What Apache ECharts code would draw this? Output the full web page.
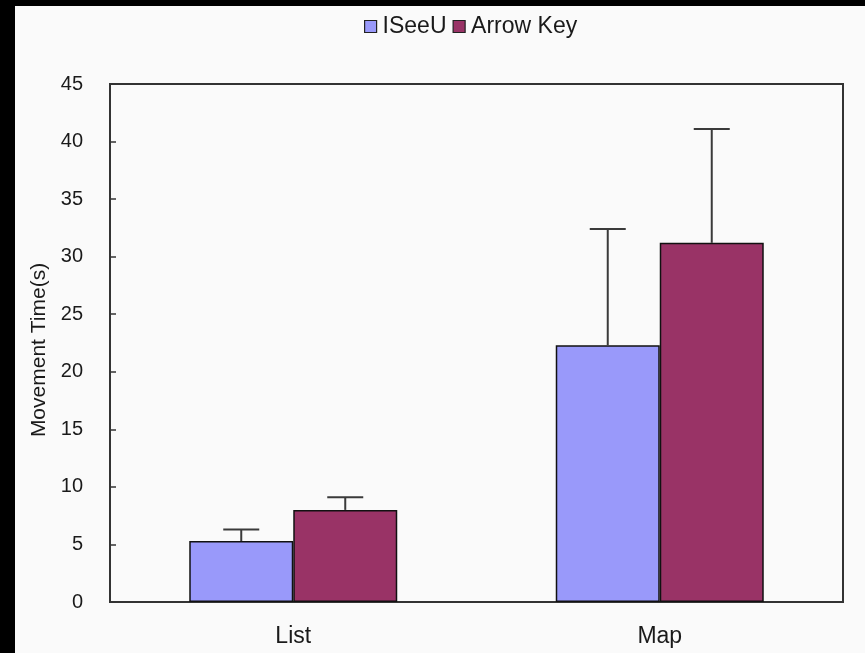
<!DOCTYPE html>
<html>
<head>
<meta charset="utf-8">
<script src="https://cdn.jsdelivr.net/npm/echarts@6/dist/echarts.min.js"></script>
<style>
  html, body { margin: 0; padding: 0; background: #fafafa; }
  #chart { width: 865px; height: 653px; }
</style>
</head>
<body>
<div id="chart"></div>
<script>
// Movement time per task, mean and upper error limit
const categories = ['List', 'Map'];
const seriesNames = ['ISeeU', 'Arrow Key'];
const iseeuMean = [5.3, 22.3];
const iseeuUpper = [6.3, 32.4];
const arrowMean = [8.0, 31.2];
const arrowUpper = [9.1, 41.1];
const yTicks = [0, 5, 10, 15, 20, 25, 30, 35, 40, 45];

const colors = ['#9999fa', '#993366'];
const fontFamily = 'Liberation Sans, Arial, sans-serif';
const narrowFamily = 'Liberation Sans Narrow, Arial Narrow, Liberation Sans, sans-serif';

const chart = echarts.init(document.getElementById('chart'));

// Error whisker: vertical line from bar top to the upper limit, plus a cap.
function errorBarRenderer(seriesIndex, means, uppers) {
  return function (params, api) {
    const ci = api.value(0);
    const base = api.coord([ci, means[ci]]);
    const top = api.coord([ci, uppers[ci]]);
    const barW = 104;
    const offset = seriesIndex === 0 ? -barW / 2 : barW / 2;
    const x = base[0] + offset;
    const cap = 18;
    const style = { stroke: '#3a3a3a', lineWidth: 2 };
    return {
      type: 'group',
      children: [
        { type: 'line', shape: { x1: x, y1: base[1], x2: x, y2: top[1] }, style: style },
        { type: 'line', shape: { x1: x - cap, y1: top[1], x2: x + cap, y2: top[1] }, style: style }
      ]
    };
  };
}

chart.setOption({
  backgroundColor: '#fafafa',
  animation: false,
  color: colors,
  graphic: [
    { type: 'rect', left: 0, top: 0, shape: { width: 15, height: 653 }, style: { fill: '#000' }, silent: true },
    { type: 'rect', left: 0, top: 0, shape: { width: 865, height: 6 }, style: { fill: '#000' }, silent: true }
  ],
  legend: {
    data: seriesNames,
    top: 14,
    left: 364,
    padding: 0,
    itemWidth: 12,
    itemHeight: 12,
    itemGap: 6,
    icon: 'rect',
    itemStyle: { borderColor: '#222', borderWidth: 1.2 },
    textStyle: { fontFamily: fontFamily, fontSize: 23, color: '#1a1a1a', lineHeight: 25, padding: [0, 0, 0, 1] }
  },
  grid: {
    left: 110, right: 22, top: 84, bottom: 51,
    show: true,
    backgroundColor: 'transparent',
    borderColor: '#333',
    borderWidth: 2
  },
  xAxis: {
    type: 'category',
    data: categories,
    axisLine: { lineStyle: { color: '#333', width: 2 } },
    axisTick: { show: false },
    axisLabel: { fontFamily: fontFamily, fontSize: 23, color: '#1a1a1a', margin: 23 }
  },
  yAxis: {
    type: 'value',
    min: yTicks[0],
    max: yTicks[yTicks.length - 1],
    interval: 5,
    name: 'Movement Time(s)',
    nameLocation: 'middle',
    nameGap: 60,
    nameTextStyle: { fontFamily: fontFamily, fontSize: 21, color: '#1a1a1a', padding: [0, 14, 0, 0] },
    axisLine: { show: true, lineStyle: { color: '#333', width: 2 } },
    axisTick: { show: true, inside: true, length: 6, lineStyle: { color: '#333', width: 1.5 } },
    splitLine: { show: false },
    axisLabel: { fontFamily: narrowFamily, fontSize: 20, color: '#1a1a1a', margin: 27 }
  },
  series: [
    {
      name: seriesNames[0],
      type: 'bar',
      data: iseeuMean,
      barWidth: 104,
      barGap: '0%',
      itemStyle: { color: colors[0], borderColor: '#111', borderWidth: 1.5 }
    },
    {
      name: seriesNames[1],
      type: 'bar',
      data: arrowMean,
      barWidth: 104,
      barGap: '0%',
      itemStyle: { color: colors[1], borderColor: '#111', borderWidth: 1.5 }
    },
    {
      type: 'custom',
      name: 'err0',
      data: categories.map((c, i) => [i]),
      renderItem: errorBarRenderer(0, iseeuMean, iseeuUpper),
      z: 5
    },
    {
      type: 'custom',
      name: 'err1',
      data: categories.map((c, i) => [i]),
      renderItem: errorBarRenderer(1, arrowMean, arrowUpper),
      z: 5
    }
  ]
});
</script>
</body>
</html>
